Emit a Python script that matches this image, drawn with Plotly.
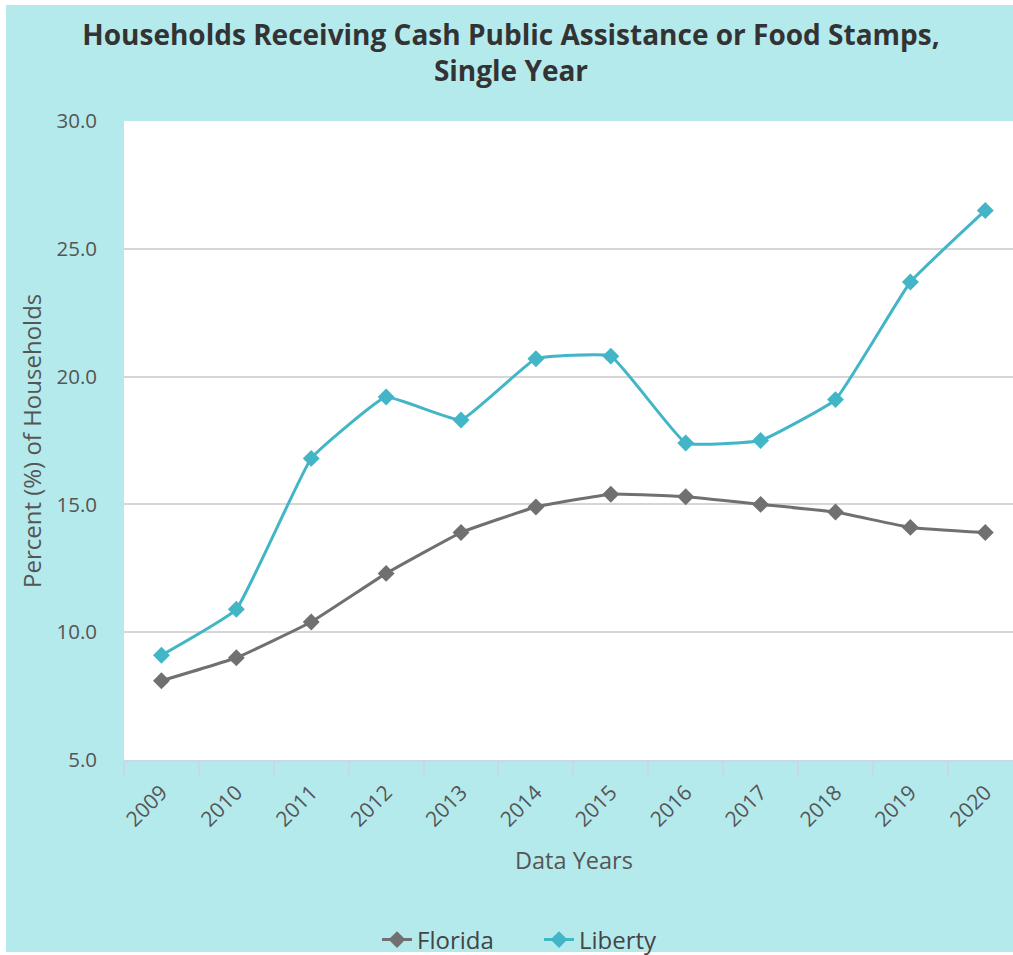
import plotly.graph_objects as go

# Share of households receiving cash public assistance or food stamps (%)
years = ["2009", "2010", "2011", "2012", "2013", "2014",
         "2015", "2016", "2017", "2018", "2019", "2020"]
florida = [8.1, 9.0, 10.4, 12.3, 13.9, 14.9, 15.4, 15.3, 15.0, 14.7, 14.1, 13.9]
liberty = [9.1, 10.9, 16.8, 19.2, 18.3, 20.7, 20.8, 17.4, 17.5, 19.1, 23.7, 26.5]
y_ticks = [5, 10, 15, 20, 25, 30]

BG = "#b5eaed"
FONT = "Open Sans, Noto Sans, sans-serif"
W, H = 1013, 955
ML, MT, MB = 124, 121, 195
PW, PH = W - ML, H - MT - MB


def px_x(p):
    return (p - ML) / PW


def px_y(p):
    return (H - MB - p) / PH


fig = go.Figure()
fig.add_trace(go.Scatter(
    x=years, y=florida, name="Florida", mode="lines+markers",
    line=dict(color="#707070", width=3, shape="spline", smoothing=0.3),
    marker=dict(symbol="diamond", size=13, color="#707070"),
))
fig.add_trace(go.Scatter(
    x=years, y=liberty, name="Liberty", mode="lines+markers",
    line=dict(color="#42b5c7", width=3, shape="spline", smoothing=0.3),
    marker=dict(symbol="diamond", size=13, color="#42b5c7"),
))

fig.update_layout(
    width=W, height=H,
    margin=dict(l=ML, r=0, t=MT, b=MB, autoexpand=False),
    paper_bgcolor="white",
    plot_bgcolor="rgba(0,0,0,0)",
    font=dict(family=FONT, color="#555555"),
    title=dict(
        text="<b>Households Receiving Cash Public Assistance or Food Stamps,<br>Single Year</b>",
        x=511 / W, xref="container", xanchor="center",
        y=1 - 45 / H, yref="container", yanchor="middle",
        font=dict(family=FONT, size=28, color="#333333"),
    ),
    showlegend=True,
    legend=dict(
        orientation="h", xref="container", yref="container",
        x=377 / W, xanchor="left",
        y=1 - 940 / H, yanchor="middle",
        entrywidth=117,
        font=dict(size=24, color="#444444"),
        bgcolor="rgba(0,0,0,0)",
    ),
    shapes=[
        dict(type="rect", xref="paper", yref="paper",
             x0=px_x(6), x1=1.02, y0=px_y(952), y1=px_y(5),
             fillcolor=BG, line=dict(width=0), layer="below"),
        dict(type="rect", xref="paper", yref="paper",
             x0=0, x1=1.02, y0=0, y1=1,
             fillcolor="white", line=dict(width=0), layer="below"),
    ],
    annotations=[
        dict(text="Data Years", xref="paper", yref="paper",
             x=px_x(574), y=px_y(860), xanchor="center", yanchor="middle",
             showarrow=False, font=dict(size=23.5, color="#555555")),
        dict(text="Percent (%) of Households", xref="paper", yref="paper",
             x=px_x(31), y=px_y(441), xanchor="center", yanchor="middle",
             textangle=-90, showarrow=False,
             font=dict(size=24, color="#555555")),
    ],
)

fig.update_xaxes(
    type="category", range=[-0.5, 11.37], automargin=False,
    tickson="boundaries", ticks="outside", ticklen=14, tickwidth=2,
    tickcolor="#ccd6eb", showline=True, linecolor="#ccd6eb", linewidth=2,
    showgrid=False, tickangle=-45, ticklabelstandoff=10,
    tickfont=dict(size=21, color="#555555"),
)
fig.update_yaxes(
    range=[5, 30], tickvals=y_ticks, tickformat=".1f", automargin=False,
    showgrid=True, gridcolor="#d6d6d6", gridwidth=2,
    zeroline=False, showline=False, ticks="",
    ticklabelstandoff=26,
    tickfont=dict(size=20.5, color="#555555"),
)

fig.write_html("out.html")
